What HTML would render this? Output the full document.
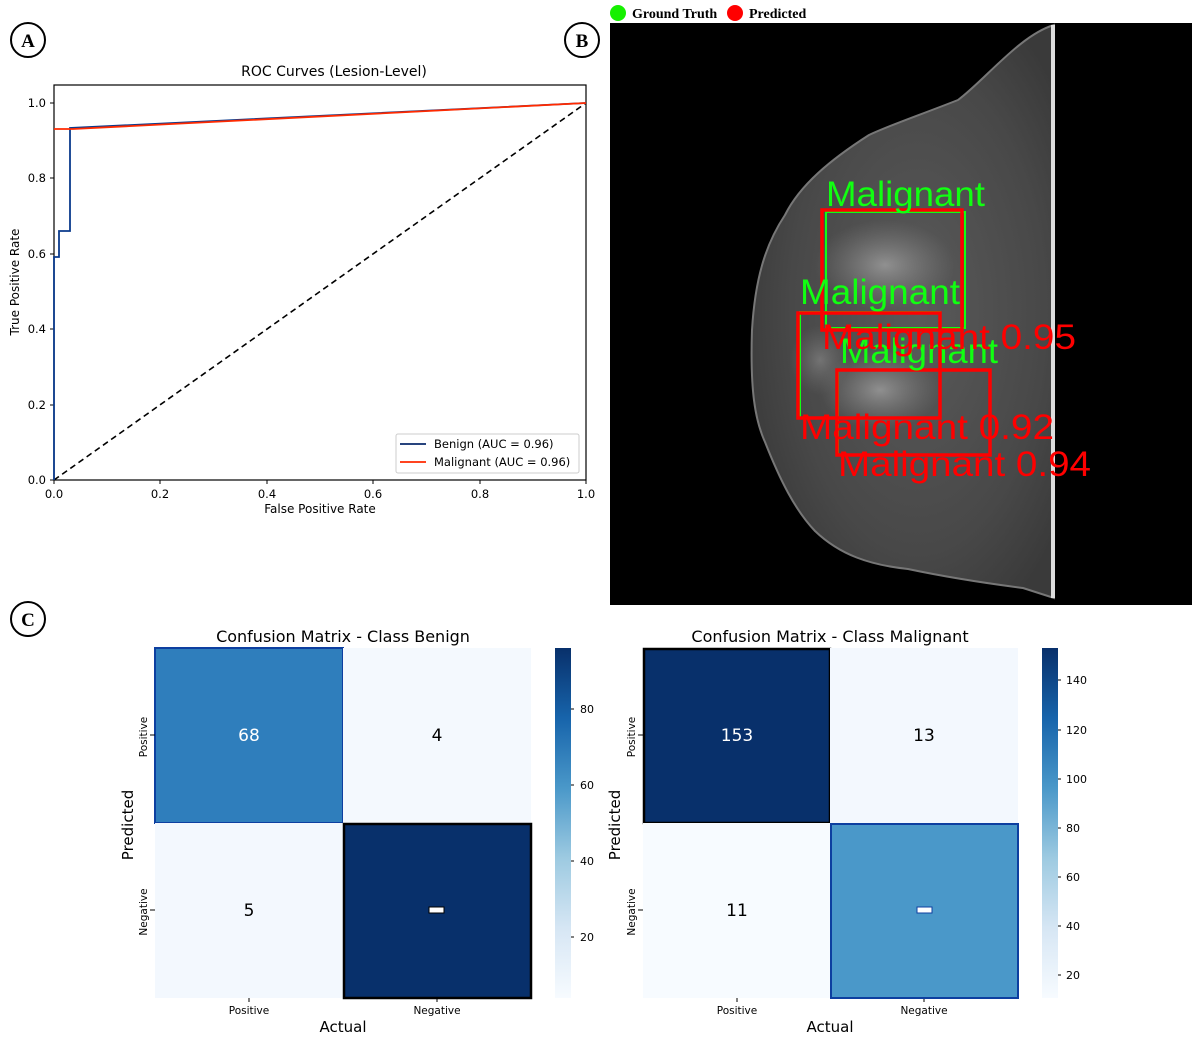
<!DOCTYPE html>
<html><head><meta charset="utf-8"><style>body{margin:0;background:#fff}svg{display:block}</style></head>
<body>
<svg width="1200" height="1045" viewBox="0 0 1200 1045" xmlns="http://www.w3.org/2000/svg" font-family="'DejaVu Sans','Liberation Sans',sans-serif">
<defs>
<radialGradient id="br" cx="0.55" cy="0.5" r="0.6">
<stop offset="0" stop-color="#5a5a5a"/><stop offset="0.7" stop-color="#484848"/><stop offset="1" stop-color="#3a3a3a"/>
</radialGradient>
<radialGradient id="bl" cx="0.5" cy="0.5" r="0.5"><stop offset="0" stop-color="#aaa" stop-opacity="0.7"/><stop offset="1" stop-color="#888" stop-opacity="0"/></radialGradient>
<linearGradient id="cb1" x1="0" y1="1" x2="0" y2="0">
<stop offset="0" stop-color="#f7fbff"/><stop offset="0.2" stop-color="#d6e6f4"/><stop offset="0.4" stop-color="#9dcae1"/><stop offset="0.6" stop-color="#4a98c9"/><stop offset="0.8" stop-color="#1764ab"/><stop offset="1" stop-color="#08306b"/>
</linearGradient>
</defs>

<g font-family="'Liberation Serif',serif" font-weight="bold" font-size="19" text-anchor="middle">
<circle cx="28" cy="40" r="17" fill="#fff" stroke="#000" stroke-width="2"/><text x="28" y="47">A</text>
<circle cx="582" cy="40" r="17" fill="#fff" stroke="#000" stroke-width="2"/><text x="582" y="47">B</text>
<circle cx="28" cy="619" r="17" fill="#fff" stroke="#000" stroke-width="2"/><text x="28" y="626">C</text>
</g>

<text x="334" y="76" font-size="14" text-anchor="middle">ROC Curves (Lesion-Level)</text>
<rect x="54" y="85" width="532" height="395" fill="none" stroke="#000" stroke-width="1.2"/>
<g font-size="11.5" text-anchor="end">
<text x="46" y="484">0.0</text><text x="46" y="409">0.2</text><text x="46" y="333">0.4</text><text x="46" y="258">0.6</text><text x="46" y="182">0.8</text><text x="46" y="107">1.0</text>
</g>
<g stroke="#000"><line x1="50" y1="480" x2="54" y2="480"/><line x1="50" y1="405" x2="54" y2="405"/><line x1="50" y1="329" x2="54" y2="329"/><line x1="50" y1="254" x2="54" y2="254"/><line x1="50" y1="178" x2="54" y2="178"/><line x1="50" y1="103" x2="54" y2="103"/>
<line x1="54" y1="480" x2="54" y2="484"/><line x1="160" y1="480" x2="160" y2="484"/><line x1="267" y1="480" x2="267" y2="484"/><line x1="373" y1="480" x2="373" y2="484"/><line x1="480" y1="480" x2="480" y2="484"/><line x1="586" y1="480" x2="586" y2="484"/></g>
<g font-size="11.5" text-anchor="middle">
<text x="54" y="498">0.0</text><text x="160" y="498">0.2</text><text x="267" y="498">0.4</text><text x="373" y="498">0.6</text><text x="480" y="498">0.8</text><text x="586" y="498">1.0</text>
</g>
<text x="320" y="513" font-size="12" text-anchor="middle">False Positive Rate</text>
<text transform="translate(19,282) rotate(-90)" font-size="12" text-anchor="middle">True Positive Rate</text>
<line x1="54" y1="480" x2="586" y2="103" stroke="#000" stroke-width="1.6" stroke-dasharray="6,4"/>
<polyline points="54,480 54,257 59,257 59,231 70,231 70,128 586,103" fill="none" stroke="#0a3a8c" stroke-width="1.8"/>
<polyline points="54,129 73,129 586,103" fill="none" stroke="#ff2a00" stroke-width="1.8"/>
<rect x="396" y="434" width="183" height="39" fill="#fff" stroke="#ccc" rx="2"/>
<line x1="400" y1="444" x2="426" y2="444" stroke="#0a2a6c" stroke-width="1.8"/>
<line x1="400" y1="462" x2="426" y2="462" stroke="#ff2a00" stroke-width="1.8"/>
<text x="434" y="448" font-size="11.5">Benign (AUC = 0.96)</text>
<text x="434" y="466" font-size="11.5">Malignant (AUC = 0.96)</text>

<circle cx="618" cy="13" r="8" fill="#16f000"/><text x="632" y="18" font-family="'Liberation Serif',serif" font-weight="bold" font-size="14">Ground Truth</text>
<circle cx="735" cy="13" r="8" fill="#f00"/><text x="749" y="18" font-family="'Liberation Serif',serif" font-weight="bold" font-size="14">Predicted</text>
<rect x="610" y="23" width="582" height="582" fill="#000"/>
<path d="M1054,25 C1020,35 985,80 958,100 C920,115 890,125 869,135 C830,160 800,185 785,215 C765,245 755,280 752,330 C750,390 755,420 765,442 C780,480 795,510 815,531 C840,555 870,565 908,569 C960,580 1000,585 1023,588 L1054,598 Z" fill="url(#br)" stroke="#777" stroke-width="2"/>
<ellipse cx="885" cy="265" rx="70" ry="45" fill="url(#bl)"/>
<ellipse cx="880" cy="390" rx="60" ry="40" fill="url(#bl)"/>
<ellipse cx="820" cy="360" rx="30" ry="35" fill="url(#bl)" opacity="0.6"/>
<rect x="1051" y="25" width="4" height="573" fill="#ddd"/>
<g fill="none" stroke-width="2">
<rect x="826" y="212" width="139" height="116" stroke="#1f1"/>
<rect x="800" y="312" width="140" height="106" stroke="#1f1"/>
<rect x="838" y="370" width="152" height="85" stroke="#1f1"/>
</g>
<g fill="none" stroke="#f00" stroke-width="3.5">
<rect x="822" y="210" width="140" height="120"/>
<rect x="798" y="313" width="142" height="105"/>
<rect x="837" y="370" width="153" height="85"/>
</g>
<g font-family="'Liberation Sans',sans-serif" font-size="35">
<text x="826" y="206" fill="#1f1" textLength="159" lengthAdjust="spacingAndGlyphs">Malignant</text>
<text x="800" y="304" fill="#1f1" textLength="160" lengthAdjust="spacingAndGlyphs">Malignant</text>
<text x="840" y="363" fill="#1f1" textLength="158" lengthAdjust="spacingAndGlyphs">Malignant</text>
<text x="822" y="349" fill="#f00" textLength="254" lengthAdjust="spacingAndGlyphs">Malignant 0.95</text>
<text x="800" y="439" fill="#f00" textLength="254" lengthAdjust="spacingAndGlyphs">Malignant 0.92</text>
<text x="838" y="476" fill="#f00" textLength="253" lengthAdjust="spacingAndGlyphs">Malignant 0.94</text>
</g>

<text x="343" y="642" font-size="16" text-anchor="middle">Confusion Matrix - Class Benign</text>
<rect x="155" y="648" width="188" height="175" fill="#2f7ebc" stroke="#0d3fa0" stroke-width="2"/>
<rect x="343" y="648" width="188" height="175" fill="#f4f9fe"/>
<rect x="155" y="823" width="188" height="175" fill="#f3f8fe"/>
<rect x="344" y="824" width="187" height="174" fill="#08306b" stroke="#000" stroke-width="2.5"/>
<text x="249" y="741" font-size="17" text-anchor="middle" fill="#fff">68</text>
<text x="437" y="741" font-size="17" text-anchor="middle">4</text>
<text x="249" y="916" font-size="17" text-anchor="middle">5</text>
<rect x="429" y="907" width="15" height="6" fill="#fff" stroke="#000" stroke-width="1"/>
<rect x="555" y="648" width="16" height="350" fill="url(#cb1)"/>
<g font-size="11"><text x="580" y="713">80</text><text x="580" y="789">60</text><text x="580" y="865">40</text><text x="580" y="941">20</text></g>
<g stroke="#000"><line x1="571" y1="709" x2="574" y2="709"/><line x1="571" y1="785" x2="574" y2="785"/><line x1="571" y1="861" x2="574" y2="861"/><line x1="571" y1="937" x2="574" y2="937"/>
<line x1="150" y1="735" x2="155" y2="735"/><line x1="150" y1="910" x2="155" y2="910"/><line x1="249" y1="998" x2="249" y2="1002"/><line x1="437" y1="998" x2="437" y2="1002"/>
<line x1="638" y1="735" x2="643" y2="735"/><line x1="638" y1="910" x2="643" y2="910"/><line x1="737" y1="998" x2="737" y2="1002"/><line x1="924" y1="998" x2="924" y2="1002"/>
<line x1="1058" y1="680" x2="1061" y2="680"/><line x1="1058" y1="730" x2="1061" y2="730"/><line x1="1058" y1="779" x2="1061" y2="779"/><line x1="1058" y1="828" x2="1061" y2="828"/><line x1="1058" y1="877" x2="1061" y2="877"/><line x1="1058" y1="926" x2="1061" y2="926"/><line x1="1058" y1="975" x2="1061" y2="975"/></g>
<g font-size="10.5" text-anchor="middle"><text x="249" y="1014">Positive</text><text x="437" y="1014">Negative</text><text x="737" y="1014">Positive</text><text x="924" y="1014">Negative</text>
<text transform="translate(147,737) rotate(-90)">Positive</text><text transform="translate(147,912) rotate(-90)">Negative</text>
<text transform="translate(635,737) rotate(-90)">Positive</text><text transform="translate(635,912) rotate(-90)">Negative</text></g>
<text x="343" y="1032" font-size="15" text-anchor="middle">Actual</text>
<text transform="translate(133,825) rotate(-90)" font-size="15" text-anchor="middle">Predicted</text>

<text x="830" y="642" font-size="16" text-anchor="middle">Confusion Matrix - Class Malignant</text>
<rect x="644" y="649" width="186" height="174" fill="#08306b" stroke="#000" stroke-width="2.5"/>
<rect x="830" y="648" width="188" height="175" fill="#f3f8fe"/>
<rect x="643" y="823" width="187" height="175" fill="#f7fbff"/>
<rect x="831" y="824" width="187" height="174" fill="#4a98c9" stroke="#0d3fa0" stroke-width="2"/>
<text x="737" y="741" font-size="17" text-anchor="middle" fill="#fff">153</text>
<text x="924" y="741" font-size="17" text-anchor="middle">13</text>
<text x="737" y="916" font-size="17" text-anchor="middle">11</text>
<rect x="917" y="907" width="15" height="6" fill="#fff" stroke="#0d3fa0" stroke-width="1"/>
<rect x="1042" y="648" width="16" height="350" fill="url(#cb1)"/>
<g font-size="11"><text x="1066" y="684">140</text><text x="1066" y="734">120</text><text x="1066" y="783">100</text><text x="1066" y="832">80</text><text x="1066" y="881">60</text><text x="1066" y="930">40</text><text x="1066" y="979">20</text></g>
<text x="830" y="1032" font-size="15" text-anchor="middle">Actual</text>
<text transform="translate(620,825) rotate(-90)" font-size="15" text-anchor="middle">Predicted</text>
</svg>
</body></html>
